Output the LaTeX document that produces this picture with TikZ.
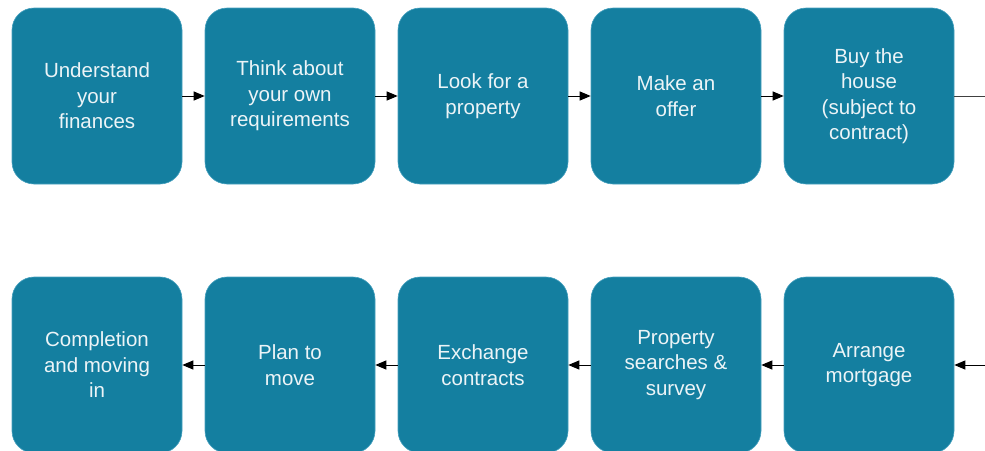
\documentclass[tikz,border=0pt]{standalone}
\usepackage{fontspec}
\setmainfont{Liberation Sans}
\usetikzlibrary{arrows.meta}
\definecolor{boxblue}{RGB}{20,127,160}
\definecolor{boxedge}{RGB}{70,160,190}
\definecolor{boxtext}{RGB}{236,244,247}
\begin{document}
\begin{tikzpicture}[x=1pt,y=-1pt,
  stepbox/.style={rectangle,rounded corners=22pt,fill=boxblue,draw=boxedge,line width=0.6pt,
    minimum width=170pt,minimum height=176pt,inner sep=0pt,align=center,
    text=boxtext,font=\fontsize{20.5}{25.5}\selectfont},
  conn/.style={draw=black,line width=1pt,-{Triangle[length=11pt,width=9pt]}},
  plain/.style={draw=black!75,line width=1pt}]
\useasboundingbox (0,0) rectangle (985,450);
\clip (0,0) rectangle (985,450);
\node[stepbox] (a1) at (97,96) {Understand\\your\\finances};
\node[stepbox] (a2) at (290,96) {Think about\\your own\\requirements};
\node[stepbox] (a3) at (483,96) {Look for a\\property};
\node[stepbox] (a4) at (676,96) {Make an\\offer};
\node[stepbox] (a5) at (869,96) {Buy the\\house\\(subject to\\contract)};
\node[stepbox] (b5) at (97,365) {Completion\\and moving\\in};
\node[stepbox] (b4) at (290,365) {Plan to\\move};
\node[stepbox] (b3) at (483,365) {Exchange\\contracts};
\node[stepbox] (b2) at (676,365) {Property\\searches \&\\survey};
\node[stepbox] (b1) at (869,365) {Arrange\\mortgage};
\coordinate (outA) at (985,96);
\coordinate (inB) at (985,365);
\draw[conn] (a1) -- (a2);
\draw[conn] (a2) -- (a3);
\draw[conn] (a3) -- (a4);
\draw[conn] (a4) -- (a5);
\draw[plain] (a5.east) -- (outA);
\draw[conn] (inB) -- (b1.east);
\draw[conn] (b1) -- (b2);
\draw[conn] (b2) -- (b3);
\draw[conn] (b3) -- (b4);
\draw[conn] (b4) -- (b5);
\end{tikzpicture}
\end{document}
